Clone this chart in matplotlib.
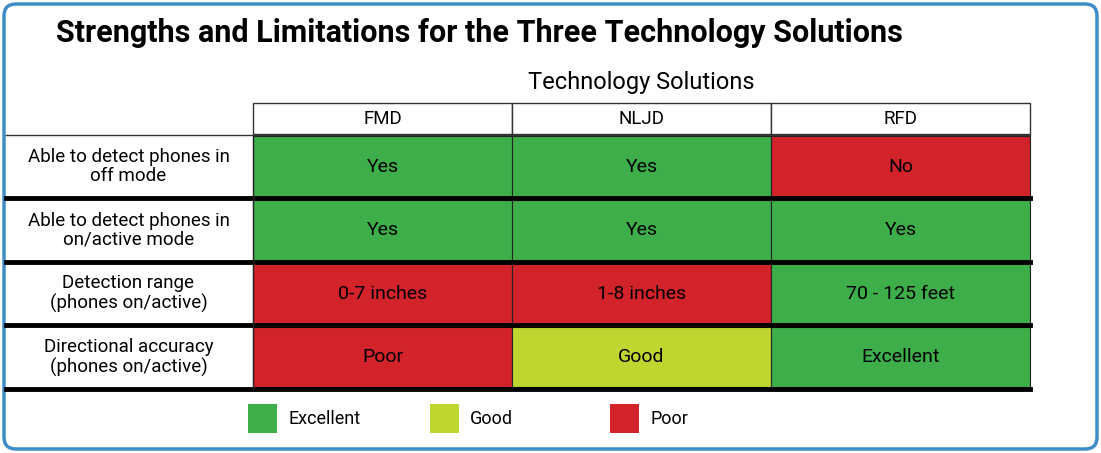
import matplotlib
matplotlib.use("Agg")
import matplotlib.pyplot as plt
from matplotlib.patches import Rectangle, FancyBboxPatch

plt.rcParams["font.family"] = ["Roboto", "DejaVu Sans"]

title = "Strengths and Limitations for the Three Technology Solutions"
group_label = "Technology Solutions"
columns = ["FMD", "NLJD", "RFD"]
row_labels = ["Able to detect phones in\noff mode",
              "Able to detect phones in\non/active mode",
              "Detection range\n(phones on/active)",
              "Directional accuracy\n(phones on/active)"]
cell_text = [["Yes", "Yes", "No"],
             ["Yes", "Yes", "Yes"],
             ["0-7 inches", "1-8 inches", "70 - 125 feet"],
             ["Poor", "Good", "Excellent"]]
ratings = [["Excellent", "Excellent", "Poor"],
           ["Excellent", "Excellent", "Excellent"],
           ["Poor", "Poor", "Excellent"],
           ["Poor", "Good", "Excellent"]]
legend_items = ["Excellent", "Good", "Poor"]
colors = {"Excellent": "#3DAE49", "Good": "#BFD630", "Poor": "#D2232A"}

W, H = 1101, 453
fig = plt.figure(figsize=(W / 100, H / 100), dpi=100)
ax = fig.add_axes([0, 0, 1, 1])
ax.set_xlim(0, W); ax.set_ylim(H, 0); ax.axis("off")

ax.add_patch(FancyBboxPatch((4, 4), W - 8, H - 8, boxstyle="round,pad=0,rounding_size=12",
                            fc="white", ec="#3F8DC8", lw=2.5))
ax.text(56, 33, title, fontsize=22, fontweight="bold", va="center", ha="left")

x0, colw = 253, 259
hdr_top, hdr_h = 103, 31
row_top, row_h = 136, 63.5
ax.text(x0 + 1.5 * colw, 82, group_label, fontsize=17, ha="center", va="center")

for j, c in enumerate(columns):
    ax.add_patch(Rectangle((x0 + j * colw, hdr_top), colw, hdr_h, fc="white", ec="#333333", lw=1))
    ax.text(x0 + (j + 0.5) * colw, hdr_top + hdr_h / 2 + 1, c, fontsize=13.5, ha="center", va="center")
ax.plot([6, x0 + 3 * colw], [row_top - 1, row_top - 1], color="#333333", lw=1)

for i, lab in enumerate(row_labels):
    y = row_top + i * row_h
    ax.text(x0 / 2 + 2, y + row_h / 2 - 1, lab, fontsize=13.5, ha="center", va="center", linespacing=1.1)
    for j in range(3):
        ax.add_patch(Rectangle((x0 + j * colw, y), colw, row_h - 3, fc=colors[ratings[i][j]],
                               ec="#222222", lw=0.8))
        ax.text(x0 + (j + 0.5) * colw, y + row_h / 2 - 1, cell_text[i][j], fontsize=14,
                ha="center", va="center")
    ax.plot([6, x0 + 3 * colw], [y + row_h - 1.5, y + row_h - 1.5], color="black", lw=3.5)
ax.plot([x0, x0], [row_top, row_top + 4 * row_h], color="#222222", lw=1)

lx = [248, 430, 610]
for k, it in enumerate(legend_items):
    ax.add_patch(Rectangle((lx[k], 404), 29, 29, fc=colors[it], ec="none"))
    ax.text(lx[k] + 40, 419, it, fontsize=13, ha="left", va="center")

fig.savefig("out.png", dpi=100)
